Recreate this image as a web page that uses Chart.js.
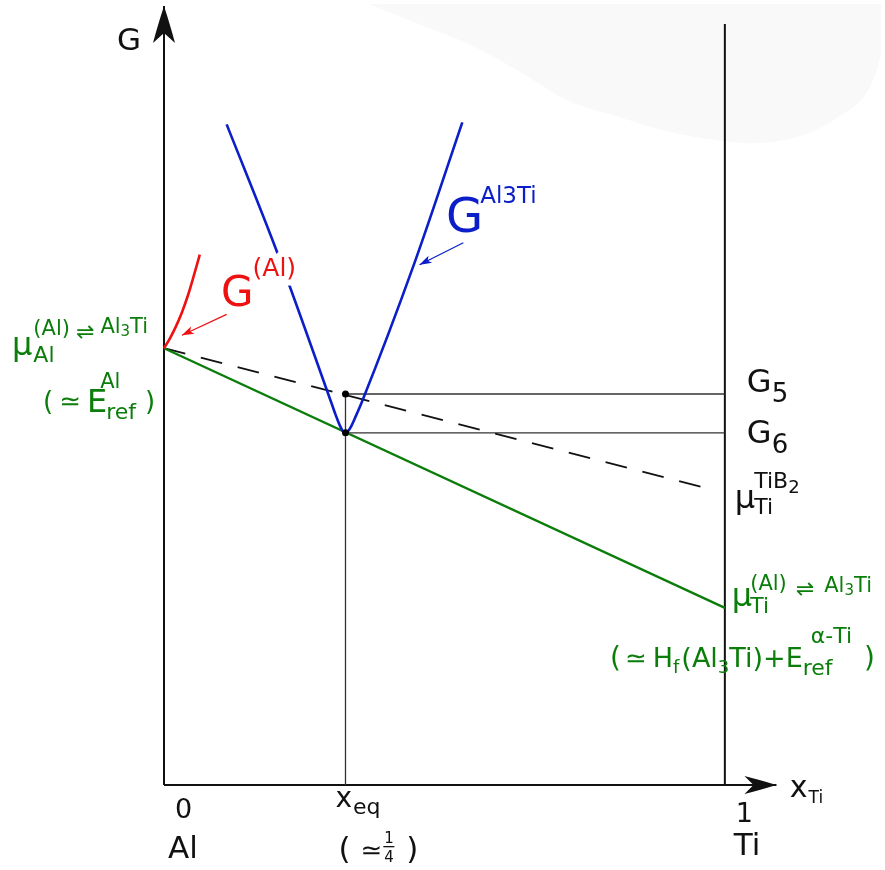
<!DOCTYPE html>
<html>
<head>
<meta charset="utf-8">
<script src="https://cdn.jsdelivr.net/npm/chart.js@4.4.1/dist/chart.umd.min.js"></script>
<style>
  html, body { margin: 0; padding: 0; background: #fff; }
  #wrap { width: 885px; height: 870px; }
</style>
</head>
<body>
<div id="wrap"><canvas id="gCanvas" width="885" height="870"></canvas></div>
<script>
// x_Ti composition (0 = Al, 1 = Ti) against free energy G (arbitrary units)
const xEq = 0.3236;
const G5 = 3.93;
const G6 = 3.54;

const gAlCurve = [[0, 4.39], [0.0106, 4.49], [0.0213, 4.61], [0.0319, 4.75], [0.0426, 4.92], [0.0532, 5.12], [0.0638, 5.33]];
const gAl3TiCurve = [
  [0.1117, 6.64], [0.2021, 5.35], [0.2979, 3.85],
  [0.3067, 3.71], [0.3138, 3.61], [0.3191, 3.555], [0.3236, 3.54], [0.3280, 3.555],
  [0.3342, 3.61], [0.3422, 3.71], [0.3528, 3.85], [0.4468, 5.25], [0.5319, 6.66]
];
const commonTangent = [[0, 4.39], [1, 1.78]];
const tib2Tangent = [[0, 4.39], [0.977, 2.97]];
const g5Level = [[xEq, G5], [1, G5]];
const g6Level = [[xEq, G6], [1, G6]];
const xEqDrop = [[xEq, 0], [xEq, G5]];
const tangentDots = [[xEq, G5], [xEq, G6]];
const tiEdge = [[1, 0], [1, 7.65]];
const yAxis = [[0, 0], [0, 7.83]];
const xAxis = [[0, 0], [1.092, 0]];
const arrowToGAl = [[0.1117, 4.73], [0.0319, 4.52]];
const arrowToGAl3Ti = [[0.5337, 5.45], [0.4557, 5.23]];
const backdrop = [
  [0.3652, 7.85], [0.4539, 7.65], [0.5426, 7.45], [0.6312, 7.18], [0.7199, 6.88],
  [0.8085, 6.72], [0.8972, 6.57], [0.9858, 6.48], [1.0443, 6.45], [1.133, 6.52],
  [1.2039, 6.72], [1.2518, 6.95], [1.273, 7.22], [1.2784, 7.35]
];

const INK = '#111';
const GREEN = '#0b7d0b';
const RED = '#ee1111';
const BLUE = '#0b1ec8';
const FONT = '"DejaVu Sans"';

const pts = a => a.map(([x, y]) => ({ x, y }));

function line(data, color, width, extra) {
  return Object.assign({
    data: pts(data), borderColor: color, borderWidth: width,
    pointRadius: 0, fill: false, clip: false, tension: 0
  }, extra || {});
}

// text with sub/superscripts, runs laid out left to right
function rich(ctx, x, y, color, runs) {
  ctx.fillStyle = color;
  ctx.textBaseline = 'alphabetic';
  let cx = x, lastStart = x, lastEnd = x;
  for (const r of runs) {
    ctx.font = r.s + 'px ' + FONT;
    let sx = (r.stack ? lastStart : cx) + (r.dx || 0);
    const w = ctx.measureText(r.t).width;
    if (r.halo) {
      ctx.save();
      ctx.strokeStyle = '#fff';
      ctx.lineWidth = r.halo;
      ctx.lineJoin = 'round';
      ctx.strokeText(r.t, sx, y + (r.dy || 0));
      ctx.restore();
    }
    ctx.fillText(r.t, sx, y + (r.dy || 0));
    lastEnd = r.stack ? Math.max(lastEnd, sx + w) : sx + w;
    lastStart = sx;
    cx = lastEnd;
  }
  return cx;
}

// dart shaped arrow head, tip at (tx, ty) pointing along angle a
function dart(ctx, tx, ty, a, len, half, notch, color) {
  ctx.save();
  ctx.translate(tx, ty);
  ctx.rotate(a);
  ctx.fillStyle = color;
  ctx.beginPath();
  ctx.moveTo(0, 0);
  ctx.quadraticCurveTo(-len * 0.55, -half * 0.6, -len, -half);
  ctx.lineTo(-len + notch, 0);
  ctx.lineTo(-len, half);
  ctx.quadraticCurveTo(-len * 0.55, half * 0.6, 0, 0);
  ctx.fill();
  ctx.restore();
}

const annotations = {
  id: 'annotations',
  afterDatasetsDraw(chart) {
    const { ctx, scales: { x, y } } = chart;
    const X = v => x.getPixelForValue(v);
    const Y = v => y.getPixelForValue(v);
    const X0 = X(0), X1 = X(1), XE = X(xEq);

    // axis arrow heads
    dart(ctx, X(yAxis[1][0]), Y(yAxis[1][1]), -Math.PI / 2, 37, 11, 10, INK);
    dart(ctx, X(xAxis[1][0]), Y(xAxis[1][1]), 0, 32, 9, 9, INK);

    // pointer heads for the curve labels
    [[arrowToGAl, RED], [arrowToGAl3Ti, BLUE]].forEach(([a, c]) => {
      const ang = Math.atan2(Y(a[1][1]) - Y(a[0][1]), X(a[1][0]) - X(a[0][0]));
      dart(ctx, X(a[1][0]), Y(a[1][1]), ang, 12, 4, 3, c);
    });

    rich(ctx, X0 - 47, 50, INK, [{ t: 'G', s: 31 }]);

    rich(ctx, 221, 306, RED, [
      { t: 'G', s: 42 },
      { t: '(Al)', s: 25, dy: -30, dx: -1, halo: 12 }
    ]);
    rich(ctx, 446, 232, BLUE, [
      { t: 'G', s: 48 },
      { t: 'Al3Ti', s: 23, dy: -29, dx: -3 }
    ]);

    // chemical potential of Al
    rich(ctx, 12, 355, GREEN, [
      { t: 'μ', s: 32 },
      { t: 'Al', s: 22, dy: 7, dx: 1 },
      { t: '(Al)', s: 21, dy: -20, stack: true },
      { t: '⇌', s: 22, dy: -16, dx: 6 },
      { t: 'Al', s: 21, dy: -22, dx: 6 },
      { t: '3', s: 15, dy: -19 },
      { t: 'Ti', s: 21, dy: -22 }
    ]);
    rich(ctx, 43, 410, GREEN, [
      { t: '(', s: 26 },
      { t: '≃', s: 26, dx: 6 },
      { t: 'E', s: 32, dx: 6, dy: 2 },
      { t: 'Al', s: 21, dy: -22, dx: -7 },
      { t: 'ref', s: 22, dy: 9, stack: true, dx: 6 },
      { t: ')', s: 26, dx: 9 }
    ]);

    // levels on the Ti side
    rich(ctx, X1 + 22, Y(G5) - 2, INK, [{ t: 'G', s: 32 }, { t: '5', s: 26, dy: 10 }]);
    rich(ctx, X1 + 22, Y(G6) + 10, INK, [{ t: 'G', s: 32 }, { t: '6', s: 26, dy: 10 }]);

    rich(ctx, X1 + 10, 508, INK, [
      { t: 'μ', s: 32 },
      { t: 'Ti', s: 22, dy: 6, dx: -1 },
      { t: 'TiB', s: 22, dy: -20, stack: true },
      { t: '2', s: 18, dy: -15 }
    ]);

    rich(ctx, X1 + 7, 606, GREEN, [
      { t: 'μ', s: 32 },
      { t: 'Ti', s: 22, dy: 7, dx: -2 },
      { t: '(Al)', s: 21, dy: -16, stack: true },
      { t: '⇌', s: 22, dy: -10, dx: 9 },
      { t: 'Al', s: 21, dy: -14, dx: 10 },
      { t: '3', s: 15, dy: -11 },
      { t: 'Ti', s: 21, dy: -14 }
    ]);
    rich(ctx, 610, 667, GREEN, [
      { t: '(', s: 28 },
      { t: '≃', s: 26, dx: 4 },
      { t: 'H', s: 27, dx: 6 },
      { t: 'f', s: 18, dy: 6 },
      { t: '(Al', s: 27, dx: 2 },
      { t: '3', s: 18, dy: 6 },
      { t: 'Ti)+E', s: 27 },
      { t: 'ref', s: 22, dy: 8 },
      { t: 'α-Ti', s: 22, dy: -24, stack: true, dx: 8 },
      { t: ')', s: 28, dx: 12 }
    ]);

    // composition axis labels
    rich(ctx, X0 + 11, 818, INK, [{ t: '0', s: 27 }]);
    rich(ctx, X0 + 4, 858, INK, [{ t: 'Al', s: 31 }]);
    rich(ctx, XE - 10, 807, INK, [{ t: 'x', s: 28 }, { t: 'eq', s: 22, dy: 7, dx: 1 }]);
    const fx = rich(ctx, XE - 7, 859, INK, [{ t: '(', s: 31 }, { t: '≃', s: 26, dx: 10 }]);
    ctx.font = '15px ' + FONT;
    ctx.fillText('1', fx + 2, 843);
    ctx.fillText('4', fx + 2, 862);
    ctx.fillRect(fx + 1, 846, 11, 1.3);
    rich(ctx, fx + 24, 859, INK, [{ t: ')', s: 31 }]);
    rich(ctx, X1 + 11, 822, INK, [{ t: '1', s: 27 }]);
    rich(ctx, X1 + 9, 855, INK, [{ t: 'Ti', s: 31 }]);
    rich(ctx, X1 + 65, 797, INK, [{ t: 'x', s: 30 }, { t: 'Ti', s: 17, dy: 6, dx: 1 }]);
  }
};

new Chart(document.getElementById('gCanvas'), {
  type: 'line',
  data: {
    datasets: [
      line(tangentDots, '#000', 0, { showLine: false, pointRadius: 3.5, pointBackgroundColor: '#000', pointBorderWidth: 0 }),
      line(gAl3TiCurve, BLUE, 2.6, { cubicInterpolationMode: 'monotone' }),
      line(gAlCurve, RED, 2.6, { cubicInterpolationMode: 'monotone' }),
      line(commonTangent, GREEN, 2.4),
      line(tib2Tangent, INK, 1.8, { borderDash: [22, 16] }),
      line(g5Level, '#333', 1.3),
      line(g6Level, '#333', 1.3),
      line(xEqDrop, '#333', 1.3),
      line(arrowToGAl, RED, 1.2),
      line(arrowToGAl3Ti, BLUE, 1.2),
      line(tiEdge, INK, 2),
      line(yAxis, INK, 2),
      line(xAxis, INK, 2),
      line(backdrop, 'rgba(0,0,0,0)', 0, { fill: 'end', backgroundColor: '#f9f9f9', cubicInterpolationMode: 'monotone' })
    ]
  },
  options: {
    responsive: false,
    animation: false,
    events: [],
    layout: { padding: { left: 164, right: 0, top: 0, bottom: 85 } },
    plugins: { legend: { display: false }, tooltip: { enabled: false } },
    scales: {
      x: { type: 'linear', min: 0, max: 1.2784, display: false },
      y: { type: 'linear', min: 0, max: 7.85, display: false }
    }
  },
  plugins: [annotations]
});
</script>
</body>
</html>
